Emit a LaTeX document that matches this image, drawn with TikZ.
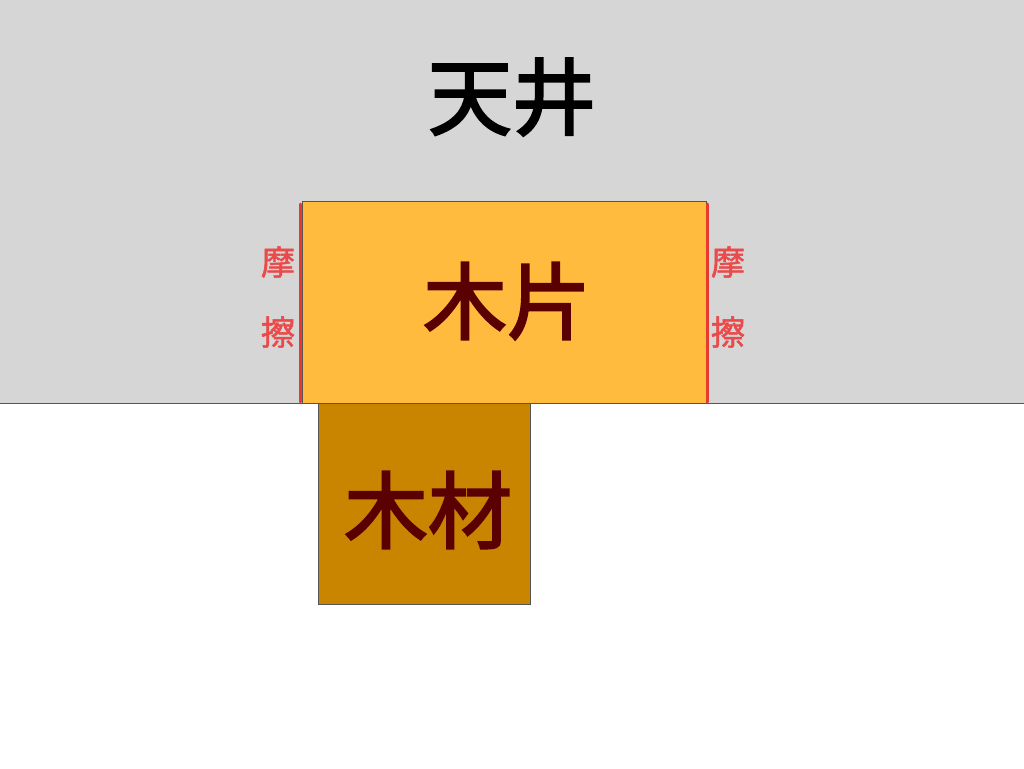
\documentclass[tikz,border=0pt]{standalone}
\usepackage{fontspec}
\newfontfamily\cjk[FakeBold=2.5]{Noto Sans CJK JP}
\newfontfamily\cjks[FakeBold=1.5]{Noto Sans CJK JP}
\definecolor{ceilgray}{HTML}{D6D6D6}
\definecolor{boardc}{HTML}{FFBB3D}
\definecolor{lumberc}{HTML}{C98400}
\definecolor{textred}{HTML}{5A0000}
\definecolor{fricred}{HTML}{EA4A4A}
\definecolor{fricline}{HTML}{E8392E}
\definecolor{edgec}{HTML}{555555}
\tikzset{
  bigtext/.style={font=\cjk\fontsize{84}{84}\selectfont, inner sep=0pt},
  fric/.style={font=\cjks\fontsize{34}{34}\selectfont, text=fricred, inner sep=0pt},
  piece/.style={draw=edgec, line width=0.8pt},
}
\begin{document}
\begin{tikzpicture}[x=1pt,y=-1pt]
\useasboundingbox (0,0) rectangle (1024,768);
\fill[white] (0,0) rectangle (1024,768);
% ceiling
\fill[ceilgray] (0,0) rectangle (1024,403);
\draw[edgec, line width=0.8pt] (0,403) -- (1024,403);
\node[bigtext, text=black] (ceil) at (512,97) {天井};
% lumber
\draw[piece, fill=lumberc] (318,403) rectangle (530,604);
\node[bigtext, text=textred] (lumber) at (428,510) {木材};
% board
\draw[piece, fill=boardc] (302,201) rectangle (706,403);
\node[bigtext, text=textred] (board) at (507,301) {木片};
% friction lines
\draw[fricline, line width=3pt, line cap=round] (300,204) -- (300,402);
\draw[fricline, line width=3pt, line cap=round] (707.5,204) -- (707.5,402);
% friction labels
\node[fric] (fl1) at (278,262) {摩};
\node[fric] (fl2) at (278,332) {擦};
\node[fric] (fr1) at (728,262) {摩};
\node[fric] (fr2) at (728,332) {擦};
\end{tikzpicture}
\end{document}
